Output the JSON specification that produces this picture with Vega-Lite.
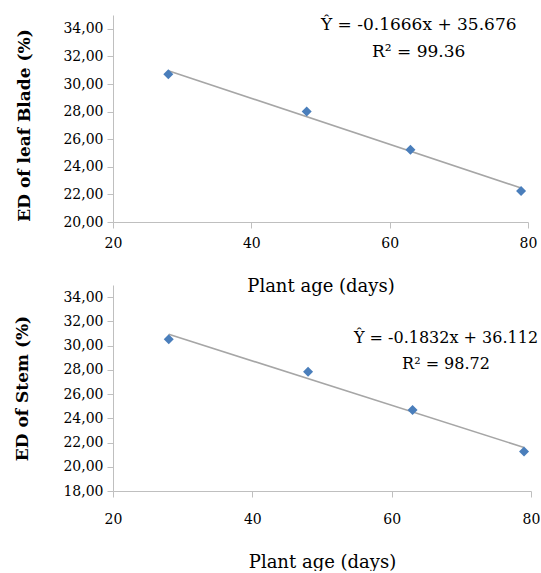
{
  "$schema": "https://vega.github.io/schema/vega-lite/v6.json",
  "background": "white",
  "padding": {"left": 12, "top": 15, "right": 0, "bottom": 0},
  "bounds": "flush",
  "spacing": 63,
  "config": {
    "view": {"stroke": null},
    "axis": {
      "grid": false,
      "domainColor": "#BFBFBF",
      "tickColor": "#BFBFBF",
      "tickSize": 6,
      "labelFont": "DejaVu Serif",
      "labelFontSize": 14,
      "labelColor": "#000000",
      "labelOverlap": false,
      "labelBound": false,
      "labelFlush": false,
      "titleFont": "DejaVu Serif",
      "titleColor": "#000000"
    },
    "text": {"font": "DejaVu Serif", "fontSize": 17, "color": "#000000"}
  },
  "vconcat": [
    {
      "width": 415,
      "height": 207,
      "data": {"values": [
        {"age": 28, "ed": 30.71},
        {"age": 48, "ed": 28.0},
        {"age": 63, "ed": 25.23},
        {"age": 79, "ed": 22.25}
      ]},
      "layer": [
        {
          "transform": [{"regression": "ed", "on": "age"}],
          "mark": {"type": "line", "color": "#A6A6A6", "strokeWidth": 1.6},
          "encoding": {
            "x": {"field": "age", "type": "quantitative",
              "scale": {"domain": [20, 80], "nice": false, "zero": false},
              "axis": {"values": [20, 40, 60, 80], "labelOverlap": false, "labelFlush": false, "labelPadding": 8, "title": "Plant age (days)", "titleFontSize": 18, "titleFontWeight": "normal", "titlePadding": 27}},
            "y": {"field": "ed", "type": "quantitative",
              "scale": {"domain": [20, 35], "nice": false, "zero": false},
              "axis": {"values": [20, 22, 24, 26, 28, 30, 32, 34], "labelOverlap": false, "labelSeparation": 0, "labelExpr": "replace(format(datum.value, '.2f'), '.', ',')", "labelPadding": 4,
                "title": "ED of leaf Blade (%)", "titleFontSize": 17, "titleFontWeight": "bold", "titleX": -84, "titleY": 110, "titleBaseline": "alphabetic"}}
          }
        },
        {
          "mark": {"type": "point", "shape": "diamond", "filled": true, "color": "#4A7EBB", "size": 100, "opacity": 1},
          "encoding": {
            "x": {"field": "age", "type": "quantitative",
              "scale": {"domain": [20, 80], "nice": false, "zero": false},
              "axis": {"values": [20, 40, 60, 80], "labelOverlap": false, "labelFlush": false, "labelPadding": 8, "title": "Plant age (days)", "titleFontSize": 18, "titleFontWeight": "normal", "titlePadding": 27}},
            "y": {"field": "ed", "type": "quantitative",
              "scale": {"domain": [20, 35], "nice": false, "zero": false},
              "axis": {"values": [20, 22, 24, 26, 28, 30, 32, 34], "labelOverlap": false, "labelSeparation": 0, "labelExpr": "replace(format(datum.value, '.2f'), '.', ',')", "labelPadding": 4,
                "title": "ED of leaf Blade (%)", "titleFontSize": 17, "titleFontWeight": "bold", "titleX": -84, "titleY": 110, "titleBaseline": "alphabetic"}}
          }
        },
        {
          "data": {"values": [{"label": "Ŷ = -0.1666x + 35.676\nR² = 99.36"}]},
          "mark": {"type": "text", "align": "center", "baseline": "alphabetic", "lineBreak": "\n", "lineHeight": 27},
          "encoding": {
            "x": {"datum": 64.2, "type": "quantitative",
              "scale": {"domain": [20, 80], "nice": false, "zero": false},
              "axis": {"values": [20, 40, 60, 80], "labelOverlap": false, "labelFlush": false, "labelPadding": 8, "title": "Plant age (days)", "titleFontSize": 18, "titleFontWeight": "normal", "titlePadding": 27}},
            "y": {"datum": 33.91, "type": "quantitative",
              "scale": {"domain": [20, 35], "nice": false, "zero": false},
              "axis": {"values": [20, 22, 24, 26, 28, 30, 32, 34], "labelOverlap": false, "labelSeparation": 0, "labelExpr": "replace(format(datum.value, '.2f'), '.', ',')", "labelPadding": 4,
                "title": "ED of leaf Blade (%)", "titleFontSize": 17, "titleFontWeight": "bold", "titleX": -84, "titleY": 110, "titleBaseline": "alphabetic"}},
            "text": {"field": "label"}
          }
        }
      ]
    },
    {
      "width": 418,
      "height": 206,
      "data": {"values": [
        {"age": 28, "ed": 30.53},
        {"age": 48, "ed": 27.85},
        {"age": 63, "ed": 24.69},
        {"age": 79, "ed": 21.25}
      ]},
      "layer": [
        {
          "transform": [{"regression": "ed", "on": "age"}],
          "mark": {"type": "line", "color": "#A6A6A6", "strokeWidth": 1.6},
          "encoding": {
            "x": {"field": "age", "type": "quantitative",
              "scale": {"domain": [20, 80], "nice": false, "zero": false},
              "axis": {"values": [20, 40, 60, 80], "labelOverlap": false, "labelFlush": false, "labelPadding": 15, "title": "Plant age (days)", "titleFontSize": 18, "titleFontWeight": "normal", "titlePadding": 27}},
            "y": {"field": "ed", "type": "quantitative",
              "scale": {"domain": [18, 35], "nice": false, "zero": false},
              "axis": {"values": [18, 20, 22, 24, 26, 28, 30, 32, 34], "labelOverlap": false, "labelSeparation": 0, "labelExpr": "replace(format(datum.value, '.2f'), '.', ',')", "labelPadding": 4,
                "title": "ED of Stem (%)", "titleFontSize": 17, "titleFontWeight": "bold", "titleX": -86, "titleBaseline": "alphabetic"}}
          }
        },
        {
          "mark": {"type": "point", "shape": "diamond", "filled": true, "color": "#4A7EBB", "size": 100, "opacity": 1},
          "encoding": {
            "x": {"field": "age", "type": "quantitative",
              "scale": {"domain": [20, 80], "nice": false, "zero": false},
              "axis": {"values": [20, 40, 60, 80], "labelOverlap": false, "labelFlush": false, "labelPadding": 15, "title": "Plant age (days)", "titleFontSize": 18, "titleFontWeight": "normal", "titlePadding": 27}},
            "y": {"field": "ed", "type": "quantitative",
              "scale": {"domain": [18, 35], "nice": false, "zero": false},
              "axis": {"values": [18, 20, 22, 24, 26, 28, 30, 32, 34], "labelOverlap": false, "labelSeparation": 0, "labelExpr": "replace(format(datum.value, '.2f'), '.', ',')", "labelPadding": 4,
                "title": "ED of Stem (%)", "titleFontSize": 17, "titleFontWeight": "bold", "titleX": -86, "titleBaseline": "alphabetic"}}
          }
        },
        {
          "data": {"values": [{"label": "Ŷ = -0.1832x + 36.112\nR² = 98.72"}]},
          "mark": {"type": "text", "align": "center", "baseline": "alphabetic", "lineBreak": "\n", "lineHeight": 26, "fontSize": 16},
          "encoding": {
            "x": {"datum": 67.8, "type": "quantitative",
              "scale": {"domain": [20, 80], "nice": false, "zero": false},
              "axis": {"values": [20, 40, 60, 80], "labelOverlap": false, "labelFlush": false, "labelPadding": 15, "title": "Plant age (days)", "titleFontSize": 18, "titleFontWeight": "normal", "titlePadding": 27}},
            "y": {"datum": 30.2, "type": "quantitative",
              "scale": {"domain": [18, 35], "nice": false, "zero": false},
              "axis": {"values": [18, 20, 22, 24, 26, 28, 30, 32, 34], "labelOverlap": false, "labelSeparation": 0, "labelExpr": "replace(format(datum.value, '.2f'), '.', ',')", "labelPadding": 4,
                "title": "ED of Stem (%)", "titleFontSize": 17, "titleFontWeight": "bold", "titleX": -86, "titleBaseline": "alphabetic"}},
            "text": {"field": "label"}
          }
        }
      ]
    }
  ]
}
